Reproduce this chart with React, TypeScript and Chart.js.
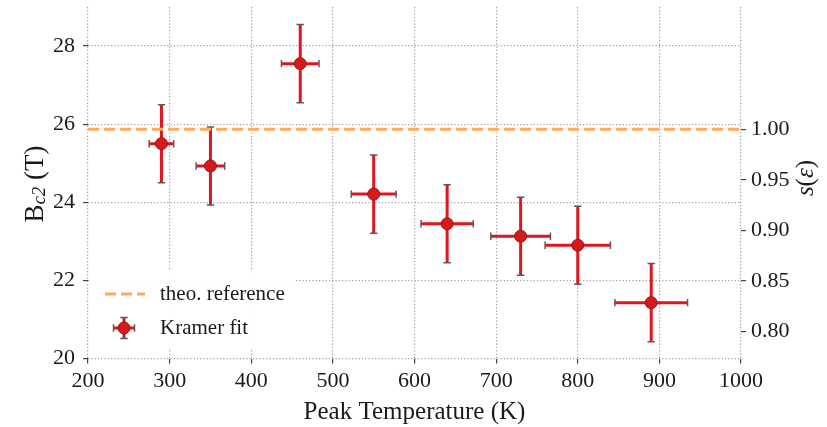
import React, { useEffect, useRef } from "react";
import { Chart, registerables } from "chart.js";

Chart.register(...registerables);

// ---- data ----
const peakTemperature = [290, 350, 460, 550, 640, 730, 800, 890];
const temperatureErr = [15, 17.5, 23, 27.5, 32, 36.5, 40, 44.5];
const bc2Values = [25.5, 24.93, 27.55, 24.21, 23.45, 23.13, 22.9, 21.43];
const bc2Err = [1.0, 1.0, 1.0, 1.0, 1.0, 1.0, 1.0, 1.0];
const theoReference = 25.87;

const xTicks = [200, 300, 400, 500, 600, 700, 800, 900, 1000];
const yTicks = [20, 22, 24, 26, 28];
const sTicks = [0.8, 0.85, 0.9, 0.95, 1.0];
const xRange = [200, 1000];
const yRange = [20, 29];

const legendLabels = ["theo. reference", "Kramer fit"];
const xTitle = "Peak Temperature (K)";

const FONT = "'Liberation Serif', 'DejaVu Serif', serif";
const RED = "#e0161e";
const MARKER = "#d7191c";
const ORANGE = "#ffab5c";
const CAP = "#5a5a5a";
const TEXT = "#1a1a1a";
const GRID = "#a0a0a0";

function drawErrorCross(
  ctx: CanvasRenderingContext2D,
  cx: number,
  cy: number,
  x0: number,
  x1: number,
  y0: number,
  y1: number
) {
  ctx.save();
  ctx.strokeStyle = RED;
  ctx.lineWidth = 3;
  ctx.lineCap = "butt";
  ctx.setLineDash([]);
  ctx.beginPath();
  ctx.moveTo(x0, cy);
  ctx.lineTo(x1, cy);
  ctx.moveTo(cx, y0);
  ctx.lineTo(cx, y1);
  ctx.stroke();
  ctx.strokeStyle = CAP;
  ctx.lineWidth = 1.5;
  const c = 3.7;
  ctx.beginPath();
  ctx.moveTo(x0, cy - c);
  ctx.lineTo(x0, cy + c);
  ctx.moveTo(x1, cy - c);
  ctx.lineTo(x1, cy + c);
  ctx.moveTo(cx - c, y0);
  ctx.lineTo(cx + c, y0);
  ctx.moveTo(cx - c, y1);
  ctx.lineTo(cx + c, y1);
  ctx.stroke();
  ctx.restore();
}

const customPlugin = {
  id: "customDecor",
  beforeDatasetsDraw(chart: any) {
    const ctx = chart.ctx as CanvasRenderingContext2D;
    const xs = chart.scales.x;
    const ys = chart.scales.y;
    for (let i = 0; i < peakTemperature.length; i++) {
      const cx = xs.getPixelForValue(peakTemperature[i]);
      const cy = ys.getPixelForValue(bc2Values[i]);
      drawErrorCross(
        ctx,
        cx,
        cy,
        xs.getPixelForValue(peakTemperature[i] - temperatureErr[i]),
        xs.getPixelForValue(peakTemperature[i] + temperatureErr[i]),
        ys.getPixelForValue(bc2Values[i] + bc2Err[i]),
        ys.getPixelForValue(bc2Values[i] - bc2Err[i])
      );
    }
  },
  afterDraw(chart: any) {
    const ctx = chart.ctx as CanvasRenderingContext2D;
    const area = chart.chartArea;

    // legend
    ctx.save();
    ctx.fillStyle = "rgba(255,255,255,0.95)";
    ctx.fillRect(89, 271, 206, 77);
    ctx.strokeStyle = ORANGE;
    ctx.lineWidth = 3;
    ctx.setLineDash([11, 5]);
    ctx.beginPath();
    ctx.moveTo(105, 294);
    ctx.lineTo(145, 294);
    ctx.stroke();
    ctx.setLineDash([]);
    drawErrorCross(ctx, 124, 328, 113.5, 134.5, 317.5, 338.5);
    ctx.beginPath();
    ctx.arc(124, 328, 6, 0, Math.PI * 2);
    ctx.fillStyle = MARKER;
    ctx.fill();
    ctx.lineWidth = 1;
    ctx.strokeStyle = "#8c1a1a";
    ctx.stroke();
    ctx.fillStyle = TEXT;
    ctx.font = `21px ${FONT}`;
    ctx.textAlign = "left";
    ctx.textBaseline = "middle";
    ctx.fillText(legendLabels[0], 160, 294);
    ctx.fillText(legendLabels[1], 160, 328);
    ctx.restore();

    // x title
    ctx.save();
    ctx.fillStyle = TEXT;
    ctx.font = `25px ${FONT}`;
    ctx.textAlign = "center";
    ctx.textBaseline = "alphabetic";
    ctx.fillText(xTitle, (area.left + area.right) / 2, 419);
    ctx.restore();

    // left y title: B_{c2} (T)
    ctx.save();
    ctx.fillStyle = TEXT;
    ctx.translate(42.5, 184);
    ctx.rotate(-Math.PI / 2);
    ctx.textBaseline = "alphabetic";
    ctx.textAlign = "left";
    const mainF = `27px ${FONT}`;
    const subF = `italic 19px ${FONT}`;
    ctx.font = mainF;
    const wB = ctx.measureText("B").width;
    const wT = ctx.measureText(" (T)").width;
    ctx.font = subF;
    const wS = ctx.measureText("c2").width;
    let sx = -(wB + wS + wT) / 2;
    ctx.font = mainF;
    ctx.fillText("B", sx, 0);
    sx += wB;
    ctx.font = subF;
    ctx.fillText("c2", sx, 2);
    sx += wS;
    ctx.font = mainF;
    ctx.fillText(" (T)", sx, 0);
    ctx.restore();

    // right y title: s(ε)
    ctx.save();
    ctx.fillStyle = TEXT;
    ctx.translate(813, 178);
    ctx.rotate(-Math.PI / 2);
    ctx.textBaseline = "alphabetic";
    ctx.textAlign = "left";
    const itF = `italic 25px ${FONT}`;
    const upF = `25px ${FONT}`;
    const parts: [string, string][] = [
      ["s", itF],
      ["(", upF],
      ["\u03b5", itF],
      [")", upF],
    ];
    let total = 0;
    const widths = parts.map(([t, f]) => {
      ctx.font = f;
      const w = ctx.measureText(t).width;
      total += w;
      return w;
    });
    let px = -total / 2;
    parts.forEach(([t, f], i) => {
      ctx.font = f;
      ctx.fillText(t, px, 0);
      px += widths[i];
    });
    ctx.restore();
  },
};

export default function App() {
  const canvasRef = useRef<HTMLCanvasElement | null>(null);

  useEffect(() => {
    document.body.style.margin = "0";
    const canvas = canvasRef.current;
    if (!canvas) return;

    const gridCommon = {
      color: GRID,
      lineWidth: 1.2,
      tickColor: "#444",
      tickLength: 5,
      tickWidth: 1.2,
      tickBorderDash: [],
    };
    const borderCommon = { display: false, dash: [1.2, 2.1] };
    const tickFont = { family: FONT, size: 22 };

    const chart = new Chart(canvas, {
      type: "scatter",
      data: {
        datasets: [
          {
            type: "scatter",
            label: legendLabels[1],
            data: peakTemperature.map((x, i) => ({ x, y: bc2Values[i] })),
            pointRadius: 6,
            pointHoverRadius: 6,
            pointBackgroundColor: MARKER,
            pointBorderColor: "#8c1a1a",
            pointBorderWidth: 1,
            showLine: false,
            xAxisID: "x",
            yAxisID: "y",
          } as any,
          {
            type: "line",
            label: legendLabels[0],
            data: [
              { x: xRange[0], y: theoReference },
              { x: xRange[1], y: theoReference },
            ],
            borderColor: ORANGE,
            borderWidth: 3,
            borderDash: [11, 5],
            pointRadius: 0,
            fill: false,
            xAxisID: "x",
            yAxisID: "y",
          } as any,
        ],
      },
      options: {
        responsive: false,
        animation: false,
        layout: { padding: { top: 7, left: 0, right: 0, bottom: 0 } },
        plugins: {
          legend: { display: false },
          tooltip: { enabled: false },
          title: { display: false },
        },
        events: [],
        scales: {
          x: {
            type: "linear",
            position: "bottom",
            min: xRange[0],
            max: xRange[1],
            afterBuildTicks: (s: any) => {
              s.ticks = xTicks.map((v) => ({ value: v }));
            },
            afterFit: (s: any) => {
              s.height = 68.5;
              s.paddingLeft = 0;
              s.paddingRight = 0;
            },
            grid: gridCommon,
            border: borderCommon,
            ticks: {
              font: tickFont,
              color: TEXT,
              padding: 5,
              maxRotation: 0,
              callback: (v: any) => String(v),
            },
          },
          y: {
            type: "linear",
            position: "left",
            min: yRange[0],
            max: yRange[1],
            afterBuildTicks: (s: any) => {
              s.ticks = yTicks.map((v) => ({ value: v }));
            },
            afterFit: (s: any) => {
              s.width = 88;
              s.paddingTop = 0;
              s.paddingBottom = 0;
            },
            grid: gridCommon,
            border: borderCommon,
            ticks: {
              font: tickFont,
              color: TEXT,
              padding: 8,
              callback: (v: any) => String(v),
            },
          },
          y2: {
            type: "linear",
            position: "right",
            min: yRange[0] / theoReference,
            max: yRange[1] / theoReference,
            afterBuildTicks: (s: any) => {
              s.ticks = sTicks.map((v) => ({ value: v }));
            },
            afterFit: (s: any) => {
              s.width = 86;
              s.paddingTop = 0;
              s.paddingBottom = 0;
            },
            grid: { ...gridCommon, drawOnChartArea: false },
            border: { display: false },
            ticks: {
              font: tickFont,
              color: TEXT,
              padding: 5,
              callback: (v: any) => Number(v).toFixed(2),
            },
          },
        },
      } as any,
      plugins: [customPlugin],
    });

    return () => {
      chart.destroy();
    };
  }, []);

  return (
    <div style={{ position: "absolute", left: 0, top: 0, width: 827, height: 427, background: "#fff" }}>
      <canvas ref={canvasRef} width={827} height={427} style={{ display: "block" }} />
    </div>
  );
}
